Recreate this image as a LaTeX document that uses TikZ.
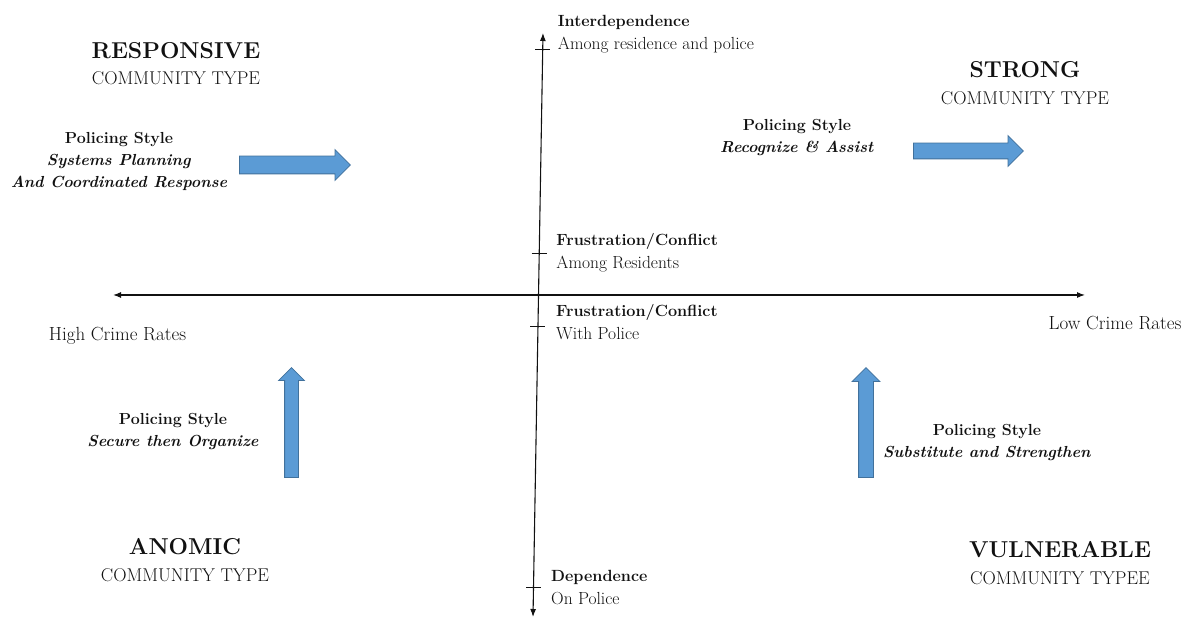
\documentclass[tikz,border=0pt]{standalone}
\usetikzlibrary{arrows.meta,calc,positioning,shapes.arrows}
\definecolor{arrowBlue}{HTML}{5B9BD5}
\definecolor{arrowEdge}{HTML}{41719C}
\definecolor{ink}{HTML}{111111}
\tikzset{
  every node/.style={text=ink},
  axis line/.style={{Latex[length=8pt,width=6pt]}-{Latex[length=8pt,width=6pt]},line width=1.1pt,draw=ink},
  tick mark/.style={line width=1pt,draw=ink},
  axis label/.style={font=\fontsize{17.5}{23}\selectfont,align=left,inner sep=0pt},
  crime label/.style={font=\fontsize{19}{22}\selectfont,inner sep=0pt},
  type title/.style={font=\fontsize{23}{26}\selectfont\bfseries,inner sep=0pt},
  type sub/.style={font=\fontsize{18.5}{22}\selectfont,inner sep=0pt},
  style label/.style={font=\fontsize{16}{22}\selectfont\bfseries,align=center,inner sep=0pt},
  block arrow/.style={
    single arrow,
    draw=arrowEdge,
    fill=arrowBlue,
    line width=0.8pt,
    single arrow head indent=0pt,
    single arrow tip angle=90
  },
}

\begin{document}
\begin{tikzpicture}[x=1pt,y=1pt,node distance=13pt]
  \useasboundingbox (0,0) rectangle (1187,618);

  % axes
  \coordinate (vtop) at (543,585);
  \coordinate (vbot) at (533,1);
  \coordinate (hleft) at (113,323);
  \coordinate (hright) at (1085,323);
  \draw[axis line] (vbot) -- (vtop);
  \draw[axis line] (hleft) -- (hright);

  % ticks on the vertical axis
  \coordinate (tickA) at ($(vtop)!0.029!(vbot)$);
  \coordinate (tickB) at ($(vtop)!0.377!(vbot)$);
  \coordinate (tickC) at ($(vtop)!0.503!(vbot)$);
  \coordinate (tickD) at ($(vtop)!0.950!(vbot)$);
  \foreach \t in {tickA,tickB,tickC,tickD}
    \draw[tick mark] ([xshift=-7.5pt]\t) -- ([xshift=7.5pt]\t);

  \node[axis label,right=15pt of tickA,yshift=16pt] (interdep) {
    {\fontsize{16.2}{23}\selectfont\bfseries Interdependence}\\Among residence and police};
  \node[axis label,right=17pt of tickB] (conflictRes) {
    {\fontsize{16.2}{23}\selectfont\bfseries Frustration/Conflict}\\Among Residents};
  \node[axis label,right=18pt of tickC,yshift=5pt] (conflictPol) {
    {\fontsize{16.2}{23}\selectfont\bfseries Frustration/Conflict}\\With Police};
  \node[axis label,right=17.5pt of tickD] (depend) {
    {\fontsize{16.2}{23}\selectfont\bfseries Dependence}\\On Police};

  \node[crime label] (highCrime) at (117.5,282) {High Crime Rates};
  \node[crime label] (lowCrime) at (1115,294.5) {Low Crime Rates};

  % community types
  \node[type title] (responsive) at (176,567.5) {RESPONSIVE};
  \node[type sub,below=of responsive] (responsiveType) {COMMUNITY TYPE};
  \node[type title] (strong) at (1025,548) {STRONG};
  \node[type sub,below=of strong] (strongType) {COMMUNITY TYPE};
  \node[type title] (anomic) at (185,71.5) {ANOMIC};
  \node[type sub,below=of anomic] (anomicType) {COMMUNITY TYPE};
  \node[type title] (vulnerable) at (1060,68.5) {VULNERABLE};
  \node[type sub,below=of vulnerable] (vulnerableType) {COMMUNITY TYPEE};

  % policing styles
  \node[style label] (styleTL) at (119,456.5) {Policing Style\\
    \textit{Systems Planning}\\\textit{And Coordinated Response}};
  \node[style label] (styleTR) at (797,480) {Policing Style\\
    \textit{Recognize \& Assist}};
  \node[style label] (styleBL) at (173,186) {Policing Style\\
    \textit{Secure then Organize}};
  \node[style label] (styleBR) at (987,175) {Policing Style\\
    \textit{Substitute and Strengthen}};

  % block arrows
  \node[block arrow,inner xsep=0pt,inner ysep=8.5pt,single arrow head extend=6.5pt,
        minimum height=111pt,anchor=tail] (arrowTL) at (239,453) {};
  \node[block arrow,inner xsep=0pt,inner ysep=7.5pt,single arrow head extend=7.5pt,
        minimum height=110pt,anchor=tail] (arrowTR) at (913,467) {};
  \node[block arrow,shape border rotate=90,inner xsep=6.5pt,inner ysep=0pt,
        single arrow head extend=6pt,minimum width=25pt,minimum height=110pt,anchor=tail] (arrowBL) at (291.5,140) {};
  \node[block arrow,shape border rotate=90,inner xsep=7pt,inner ysep=0pt,
        single arrow head extend=6.5pt,minimum width=27pt,minimum height=110pt,anchor=tail] (arrowBR) at (866,140) {};

\end{tikzpicture}
\end{document}
